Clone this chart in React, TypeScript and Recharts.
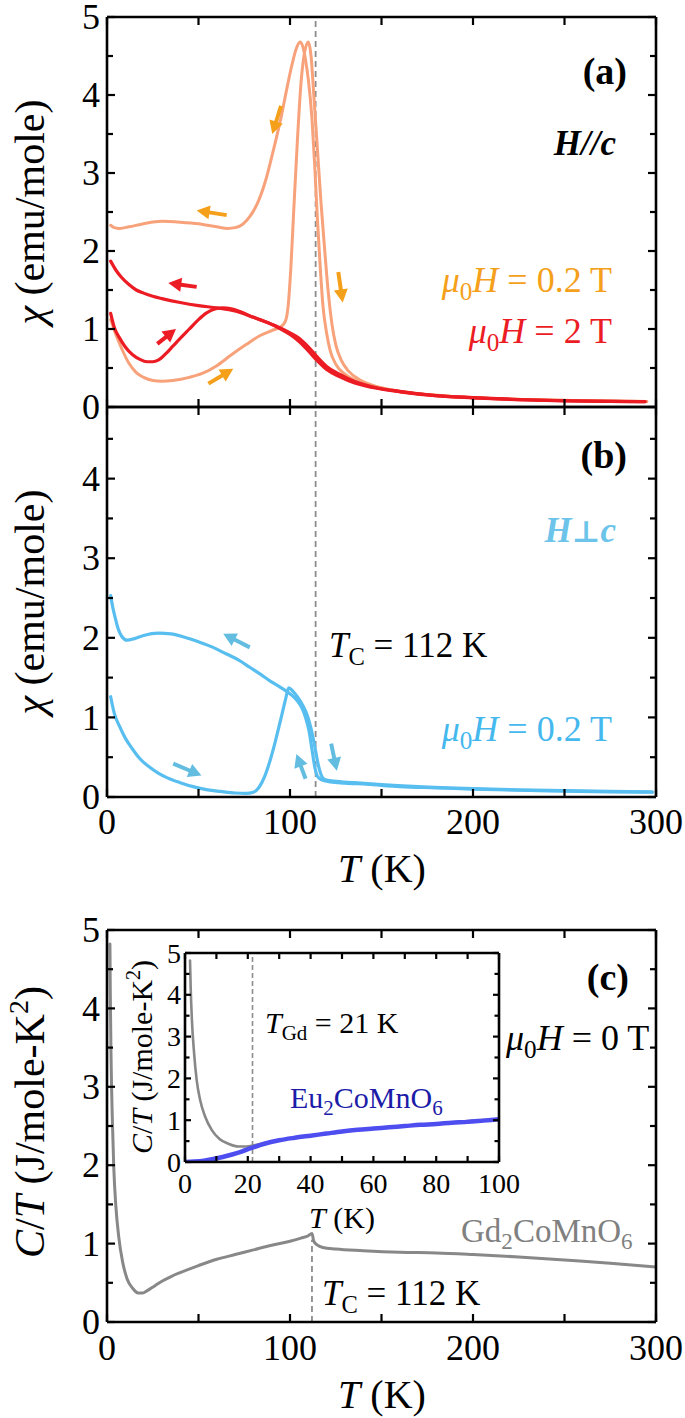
import React from 'react';
import { LineChart, Line, XAxis, YAxis, ReferenceLine } from 'recharts';

const FONT = '"Liberation Serif", "Times New Roman", serif';
const W = 685;
const H = 1418;

// ---------- tick values ----------
const xTicksMain = [0, 50, 100, 150, 200, 250, 300];
const yTicksA = [0, 0.5, 1, 1.5, 2, 2.5, 3, 3.5, 4, 4.5, 5];
const yTicksB = [0, 0.5, 1, 1.5, 2, 2.5, 3, 3.5, 4, 4.5];
const yTicksC = [0, 0.5, 1, 1.5, 2, 2.5, 3, 3.5, 4, 4.5, 5];
const xTicksInset = [0, 10, 20, 30, 40, 50, 60, 70, 80, 90, 100];
const yTicksInset = [0, 0.5, 1, 1.5, 2, 2.5, 3, 3.5, 4, 4.5, 5];

// ---------- panel (a): H // c ----------
// [T (K), chi (emu/mole)]
const chiZfc02: [number, number][] = [
  [2, 1.12], [5, 0.92], [8, 0.75], [12, 0.56], [16, 0.44], [20, 0.38], [25, 0.34], [30, 0.33],
  [36, 0.34], [45, 0.38], [52, 0.43], [60, 0.53], [68, 0.67], [76, 0.8], [84, 0.92], [90, 0.98],
  [95, 1.03], [97.5, 1.1], [99, 1.3], [100.5, 1.8], [102, 2.5], [104, 3.4], [106, 4.15], [108, 4.55],
  [110, 4.68], [111.5, 4.5], [113, 4.0], [115, 3.3], [117, 2.6], [119, 2.0], [121, 1.45], [123, 1.05],
  [125, 0.8], [128, 0.6], [132, 0.46], [138, 0.35], [145, 0.28], [160, 0.2], [180, 0.15], [200, 0.12],
  [230, 0.095], [260, 0.08], [295, 0.07],
];
const chiFc02: [number, number][] = [
  [2, 2.33], [4, 2.3], [7, 2.29], [12, 2.31], [20, 2.35], [30, 2.38], [40, 2.37], [50, 2.35],
  [60, 2.31], [66, 2.29], [70, 2.3], [74, 2.34], [78, 2.44], [82, 2.6], [87, 2.93], [91, 3.3],
  [95, 3.7], [98, 4.05], [101, 4.38], [103.5, 4.6], [105.5, 4.68], [107, 4.62], [108.5, 4.45],
  [110, 4.2], [112, 3.7], [113.5, 3.1], [115, 2.4], [116.5, 1.8], [118, 1.3], [120, 0.95],
  [122, 0.72], [125, 0.55], [130, 0.42], [137, 0.33], [145, 0.27], [160, 0.2], [180, 0.15],
  [200, 0.12], [230, 0.095], [260, 0.08], [295, 0.07],
];
const chiFc2: [number, number][] = [
  [2, 1.87], [5, 1.75], [8, 1.66], [12, 1.57], [16, 1.5], [20, 1.46], [25, 1.42], [30, 1.39],
  [40, 1.34], [50, 1.3], [60, 1.27], [70, 1.23], [80, 1.15], [88, 1.08], [95, 1.01], [100, 0.95],
  [105, 0.88], [110, 0.77], [115, 0.64], [120, 0.52], [127, 0.42], [135, 0.33], [145, 0.26],
  [160, 0.2], [178, 0.15], [200, 0.12], [225, 0.095], [250, 0.08], [275, 0.072], [294, 0.068],
];
const chiZfc2: [number, number][] = [
  [2, 1.2], [4, 1.02], [7, 0.88], [10, 0.77], [14, 0.67], [18, 0.61], [22, 0.58], [25, 0.58],
  [28, 0.6], [32, 0.68], [36, 0.78], [40, 0.88], [45, 1.0], [50, 1.12], [54, 1.2], [58, 1.25],
  [63, 1.27], [68, 1.26], [73, 1.22], [80, 1.15], [88, 1.08], [95, 1.0], [100, 0.93], [105, 0.84],
  [110, 0.72], [115, 0.59], [120, 0.48], [127, 0.39], [135, 0.31], [145, 0.25], [160, 0.195],
  [178, 0.148], [200, 0.118], [225, 0.093], [250, 0.079], [275, 0.071], [294, 0.067],
];

// ---------- panel (b): H ⊥ c ----------
const chiFcPerp: [number, number][] = [
  [2, 2.53], [3, 2.4], [4.5, 2.25], [6, 2.12], [8, 2.02], [11, 1.97], [15, 1.99], [20, 2.03],
  [28, 2.06], [35, 2.05], [42, 2.01], [50, 1.95], [58, 1.88], [65, 1.8], [72, 1.72], [78, 1.63],
  [84, 1.54], [89, 1.46], [94, 1.39], [98, 1.33], [101, 1.28], [104, 1.21], [106.5, 1.12],
  [108.5, 1.0], [110.5, 0.82], [112, 0.6], [113.5, 0.38], [115, 0.26], [117, 0.22], [122, 0.19],
  [130, 0.175], [142, 0.16], [160, 0.13], [180, 0.115], [200, 0.1], [225, 0.085], [250, 0.075],
  [275, 0.065], [298, 0.06],
];
const chiZfcPerp: [number, number][] = [
  [2, 1.26], [4, 1.05], [7, 0.88], [10, 0.74], [14, 0.6], [18, 0.48], [23, 0.38], [28, 0.3],
  [33, 0.24], [40, 0.18], [47, 0.13], [55, 0.09], [62, 0.07], [70, 0.05], [76, 0.045], [80, 0.06],
  [83, 0.12], [86, 0.25], [89, 0.45], [92, 0.7], [95, 0.98], [97.5, 1.22], [99.3, 1.37],
  [101.5, 1.33], [104, 1.26], [107, 1.15], [109.5, 1.02], [111.5, 0.86], [113.5, 0.64],
  [115.3, 0.42], [117, 0.28], [119, 0.22], [124, 0.2], [135, 0.18], [150, 0.155], [170, 0.13],
  [200, 0.105], [225, 0.09], [250, 0.08], [275, 0.07], [298, 0.063],
];

// ---------- panel (c): specific heat ----------
const ctGd: [number, number][] = [
  [1.6, 4.82], [1.8, 4.2], [2.2, 3.4], [2.9, 2.6], [3.7, 1.97], [4.8, 1.49], [6.4, 1.09],
  [8.5, 0.77], [11, 0.55], [14, 0.43], [17, 0.37], [19.5, 0.37], [22, 0.4], [26, 0.46], [30, 0.52],
  [35, 0.58], [40, 0.63], [50, 0.72], [60, 0.8], [70, 0.86], [80, 0.92], [90, 0.98], [100, 1.03],
  [106, 1.07], [110, 1.1], [112, 1.13], [113, 1.03], [115, 0.98], [118, 0.95], [125, 0.93],
  [140, 0.91], [160, 0.89], [180, 0.88], [200, 0.86], [225, 0.83], [250, 0.79], [275, 0.75],
  [300, 0.7],
];
const ctEu: [number, number][] = [
  [0, 0], [3, 0.01], [6, 0.03], [9, 0.07], [12, 0.12], [15, 0.18], [18, 0.25], [21, 0.33],
  [25, 0.43], [30, 0.52], [35, 0.58], [40, 0.63], [45, 0.68], [50, 0.73], [55, 0.77], [60, 0.8],
  [65, 0.83], [70, 0.86], [75, 0.89], [80, 0.91], [85, 0.94], [90, 0.96], [95, 0.99], [100, 1.02],
];

// ---------- arrows: [T1, v1, T2, v2] (tail -> head) ----------
const arrowsOrange: [number, number, number, number][] = [
  [95.1, 3.86, 90.3, 3.5],
  [65.4, 2.46, 49, 2.52],
  [126.4, 1.73, 128.8, 1.34],
  [55.4, 0.3, 69, 0.49],
];
const arrowsRed: [number, number, number, number][] = [
  [49, 1.54, 33.5, 1.59],
  [27.5, 0.81, 37.7, 1.0],
];
const arrowsBlue: [number, number, number, number][] = [
  [78, 1.88, 63.5, 2.05],
  [36.2, 0.42, 51.6, 0.27],
  [108.5, 0.23, 103.5, 0.54],
  [122.5, 0.67, 125.6, 0.33],
];

const TC_LINE = 114;
const TC_C = 112;
const TGD_LINE = 21.5;

const rows = (pts: [number, number][]) => pts.map(([t, v]) => ({ t, v }));

// ---------- colours ----------
const SALMON = '#F7A27A';
const RED = '#EC1C24';
const ORANGE = '#F5A01A';
const BLUE = '#58BEF0';
const BLUE_ARROW = '#62BDE0';
const GRAY = '#888888';
const EU_BLUE = '#4E4EF0';
const EU_TEXT = '#1C1CA8';
const DASH = '#8C8C8C';

type Orient = 'bottom' | 'top' | 'left' | 'right';
interface TickOpts {
  major: number;
  len: number;
  minorLen: number;
  labels: boolean;
  fontSize: number;
  offset: number;
}

const isMajor = (v: number, m: number) => Math.abs(v / m - Math.round(v / m)) < 1e-6;

function makeTick(orient: Orient, o: TickOpts) {
  return (props: any) => {
    const { x, y, payload } = props;
    const v = payload.value as number;
    const major = isMajor(v, o.major);
    const L = major ? o.len : o.minorLen;
    let x2 = x;
    let y2 = y;
    if (orient === 'bottom') y2 = y - L;
    if (orient === 'top') y2 = y + L;
    if (orient === 'left') x2 = x + L;
    if (orient === 'right') x2 = x - L;
    let label: React.ReactNode = null;
    if (o.labels && major) {
      if (orient === 'bottom') {
        label = (
          <text x={x} y={y + o.offset} textAnchor="middle" style={{ fontFamily: FONT }} fontSize={o.fontSize} fill="#000">
            {String(Math.round(v))}
          </text>
        );
      } else if (orient === 'left') {
        label = (
          <text x={x - o.offset} y={y} dy="0.34em" textAnchor="end" style={{ fontFamily: FONT }} fontSize={o.fontSize} fill="#000">
            {String(Math.round(v))}
          </text>
        );
      }
    }
    return (
      <g>
        <line x1={x} y1={y} x2={x2} y2={y2} stroke="#000" strokeWidth={2.2} />
        {label}
      </g>
    );
  };
}

const axisLine = { stroke: '#000', strokeWidth: 2.6 };

function frame(
  xDomain: [number, number],
  xTicks: number[],
  xMajor: number,
  yDomain: [number, number],
  yTicks: number[],
  yMajor: number,
  showXLabels: boolean,
  fontSize: number,
  xOffset: number,
  yOffset: number,
  tickLen: number,
) {
  const common = { allowDataOverflow: true, interval: 0 as const, tickSize: 0, tickMargin: 0, tickLine: false, axisLine };
  return [
    <XAxis key="xb" xAxisId="b" orientation="bottom" type="number" dataKey="t" domain={xDomain} ticks={xTicks} height={1}
      {...common}
      tick={makeTick('bottom', { major: xMajor, len: tickLen, minorLen: tickLen, labels: showXLabels, fontSize, offset: xOffset })} />,
    <XAxis key="xt" xAxisId="t" orientation="top" type="number" dataKey="t" domain={xDomain} ticks={xTicks} height={1}
      {...common}
      tick={makeTick('top', { major: xMajor, len: tickLen, minorLen: tickLen, labels: false, fontSize, offset: 0 })} />,
    <YAxis key="yl" yAxisId="l" orientation="left" type="number" domain={yDomain} ticks={yTicks} width={1}
      {...common}
      tick={makeTick('left', { major: yMajor, len: tickLen, minorLen: tickLen * 0.75, labels: true, fontSize, offset: yOffset })} />,
    <YAxis key="yr" yAxisId="r" orientation="right" type="number" domain={yDomain} ticks={yTicks} width={1}
      {...common}
      tick={makeTick('right', { major: yMajor, len: tickLen, minorLen: tickLen * 0.75, labels: false, fontSize, offset: 0 })} />,
  ];
}

// plot box -> chart margins (axes take 1px each)
const boxMargin = (left: number, top: number, right: number, bottom: number) => ({
  left: left - 1,
  top: top - 1,
  right: W - right - 1,
  bottom: H - bottom - 1,
});

const arrowShape = (color: string) => (p: any) => {
  const { x1, y1, x2, y2 } = p;
  const dx = x2 - x1;
  const dy = y2 - y1;
  const L = Math.hypot(dx, dy) || 1;
  const ux = dx / L;
  const uy = dy / L;
  const hl = 13;
  const hw = 7;
  const bx = x2 - ux * hl;
  const by = y2 - uy * hl;
  return (
    <g>
      <line x1={x1} y1={y1} x2={bx + ux * 2} y2={by + uy * 2} stroke={color} strokeWidth={4} />
      <polygon points={`${x2},${y2} ${bx - uy * hw},${by + ux * hw} ${bx + uy * hw},${by - ux * hw}`} fill={color} />
    </g>
  );
};

const arrowLines = (list: [number, number, number, number][], color: string, prefix: string) =>
  list.map((a, i) => (
    <ReferenceLine
      key={`${prefix}${i}`}
      xAxisId="b"
      yAxisId="l"
      segment={[{ x: a[0], y: a[1] }, { x: a[2], y: a[3] }]}
      shape={arrowShape(color)}
    />
  ));

const series = (pts: [number, number][], color: string, width: number, key: string) => (
  <Line
    key={key}
    xAxisId="b"
    yAxisId="l"
    data={rows(pts)}
    dataKey="v"
    type="monotone"
    stroke={color}
    strokeWidth={width}
    dot={false}
    activeDot={false}
    isAnimationActive={false}
    strokeLinejoin="round"
    strokeLinecap="round"
  />
);

const layer: React.CSSProperties = { position: 'absolute', left: 0, top: 0 };
const tf = { fontFamily: FONT };

const MuH = ({ x, y, value, color, anchor = 'end', size = 36 }: any) => (
  <text x={x} y={y} fill={color} fontSize={size} style={tf} textAnchor={anchor}>
    <tspan fontStyle="italic">μ</tspan>
    <tspan fontSize={size * 0.7} dy={size * 0.22}>0</tspan>
    <tspan fontStyle="italic" dy={-size * 0.22}>H</tspan>
    <tspan> = {value} T</tspan>
  </text>
);

const Sub = ({ x, y, main, sub, rest, size = 36, color = '#000', anchor = 'start' }: any) => (
  <text x={x} y={y} fill={color} fontSize={size} style={tf} textAnchor={anchor}>
    <tspan fontStyle="italic">{main}</tspan>
    <tspan fontSize={size * 0.7} dy={size * 0.22}>{sub}</tspan>
    <tspan dy={-size * 0.22}>{rest}</tspan>
  </text>
);

const Formula = ({ x, y, parts, size, color }: any) => (
  <text x={x} y={y} fill={color} fontSize={size} style={tf}>
    {parts.map((p: [string, boolean], i: number) => {
      const prevSub = i > 0 && parts[i - 1][1];
      const dy = p[1] ? size * 0.22 : prevSub ? -size * 0.22 : 0;
      return (
        <tspan key={i} fontSize={p[1] ? size * 0.7 : size} dy={dy}>
          {p[0]}
        </tspan>
      );
    })}
  </text>
);

export default function App() {
  return (
    <div style={{ position: 'absolute', left: 0, top: 0, width: W, height: H, background: '#fff', overflow: 'hidden' }}>
      {/* panel (a) */}
      <div style={layer}>
        <LineChart width={W} height={H} margin={boxMargin(107, 17, 656, 407)}>
          {frame([0, 300], xTicksMain, 100, [0, 5], yTicksA, 1, false, 36, 38, 7, 8)}
          <ReferenceLine xAxisId="b" yAxisId="l" x={TC_LINE} stroke={DASH} strokeWidth={1.8} strokeDasharray="6 4" />
          {series(chiFc02, SALMON, 3, 'fc02')}
          {series(chiZfc02, SALMON, 3, 'zfc02')}
          {series(chiZfc2, RED, 3.2, 'zfc2')}
          {series(chiFc2, RED, 3.2, 'fc2')}
          {arrowLines(arrowsOrange, ORANGE, 'ao')}
          {arrowLines(arrowsRed, RED, 'ar')}
        </LineChart>
      </div>

      {/* panel (b) */}
      <div style={layer}>
        <LineChart width={W} height={H} margin={boxMargin(107, 407, 656, 797)}>
          {frame([0, 300], xTicksMain, 100, [0, 4.9], yTicksB, 1, true, 36, 37, 7, 8)}
          <ReferenceLine xAxisId="b" yAxisId="l" x={TC_LINE} stroke={DASH} strokeWidth={1.8} strokeDasharray="6 4" />
          {series(chiFcPerp, BLUE, 3.2, 'fcp')}
          {series(chiZfcPerp, BLUE, 3.2, 'zfcp')}
          {arrowLines(arrowsBlue, BLUE_ARROW, 'ab')}
        </LineChart>
      </div>

      {/* panel (c) */}
      <div style={layer}>
        <LineChart width={W} height={H} margin={boxMargin(107, 930, 656, 1322)}>
          {frame([0, 300], xTicksMain, 100, [0, 5], yTicksC, 1, true, 36, 38, 7, 8)}
          <ReferenceLine
            xAxisId="b"
            yAxisId="l"
            segment={[{ x: TC_C, y: 0 }, { x: TC_C, y: 1.05 }]}
            stroke={DASH}
            strokeWidth={1.8}
            strokeDasharray="6 4"
          />
          {series(ctGd, GRAY, 3, 'gd')}
        </LineChart>
      </div>

      {/* inset */}
      <div style={layer}>
        <LineChart width={W} height={H} margin={boxMargin(185, 953, 499, 1162)}>
          {frame([0, 100], xTicksInset, 20, [0, 5], yTicksInset, 1, true, 28, 31, 4, 6)}
          <ReferenceLine xAxisId="b" yAxisId="l" x={TGD_LINE} stroke={DASH} strokeWidth={1.6} strokeDasharray="5 3" />
          {series(ctGd, GRAY, 2.6, 'gdi')}
          {series(ctEu, EU_BLUE, 4.5, 'eu')}
        </LineChart>
      </div>

      {/* text annotations */}
      <svg width={W} height={H} style={{ ...layer, pointerEvents: 'none' }}>
        {/* axis titles */}
        <text transform="translate(44,212) rotate(-90)" textAnchor="middle" style={tf} fontSize={42} fill="#000">
          <tspan fontStyle="italic">χ</tspan> (emu/mole)
        </text>
        <text transform="translate(44,602) rotate(-90)" textAnchor="middle" style={tf} fontSize={42} fill="#000">
          <tspan fontStyle="italic">χ</tspan> (emu/mole)
        </text>
        <text transform="translate(44,1122) rotate(-90)" textAnchor="middle" style={tf} fontSize={42} fill="#000">
          <tspan fontStyle="italic">C</tspan>/<tspan fontStyle="italic">T</tspan> (J/mole-K
          <tspan fontSize={28} dy={-16}>2</tspan>
          <tspan dy={16}>)</tspan>
        </text>
        <text transform="translate(152,1057) rotate(-90)" textAnchor="middle" style={tf} fontSize={30} fill="#000">
          <tspan fontStyle="italic">C</tspan>/<tspan fontStyle="italic">T</tspan> (J/mole-K
          <tspan fontSize={20} dy={-12}>2</tspan>
          <tspan dy={12}>)</tspan>
        </text>
        <text x={382} y={882} textAnchor="middle" style={tf} fontSize={40} fill="#000">
          <tspan fontStyle="italic">T</tspan> (K)
        </text>
        <text x={382} y={1408} textAnchor="middle" style={tf} fontSize={40} fill="#000">
          <tspan fontStyle="italic">T</tspan> (K)
        </text>
        <text x={342} y={1228} textAnchor="middle" style={tf} fontSize={30} fill="#000">
          <tspan fontStyle="italic">T</tspan> (K)
        </text>

        {/* panel (a) */}
        <text x={627} y={84} textAnchor="end" style={tf} fontSize={38} fontWeight="bold" fill="#000">(a)</text>
        <text x={616} y={155} textAnchor="end" style={tf} fontSize={35} fontWeight="bold" fontStyle="italic" fill="#000">H//c</text>
        <MuH x={612} y={292} value="0.2" color={ORANGE} />
        <MuH x={612} y={343} value="2" color={RED} />

        {/* panel (b) */}
        <text x={627} y={468} textAnchor="end" style={tf} fontSize={38} fontWeight="bold" fill="#000">(b)</text>
        <text x={616} y={542} textAnchor="end" fontSize={35} fontWeight="bold" fontStyle="italic" fill="#6CC4EA"
          style={{ fontFamily: '"Liberation Serif", "DejaVu Serif", serif' }}>
          <tspan>H</tspan>
          <tspan style={{ fontFamily: '"DejaVu Serif", serif' }} fontStyle="normal" fontSize={30}>⊥</tspan>
          <tspan>c</tspan>
        </text>
        <Sub x={329} y={657} main="T" sub="C" rest=" = 112 K" size={35} />
        <MuH x={612} y={741} value="0.2" color="#45B8EE" />

        {/* panel (c) */}
        <text x={629} y={990} textAnchor="end" style={tf} fontSize={38} fontWeight="bold" fill="#000">(c)</text>
        <MuH x={506} y={1050} value="0" color="#000" anchor="start" />
        <Formula x={461} y={1242} size={33} color="#808080"
          parts={[['Gd', false], ['2', true], ['CoMnO', false], ['6', true]]} />
        <Sub x={322} y={1305} main="T" sub="C" rest=" = 112 K" size={35} />
        <Sub x={265} y={1033} main="T" sub="Gd" rest=" = 21 K" size={30} />
        <Formula x={290} y={1108} size={30} color={EU_TEXT}
          parts={[['Eu', false], ['2', true], ['CoMnO', false], ['6', true]]} />
      </svg>
    </div>
  );
}
